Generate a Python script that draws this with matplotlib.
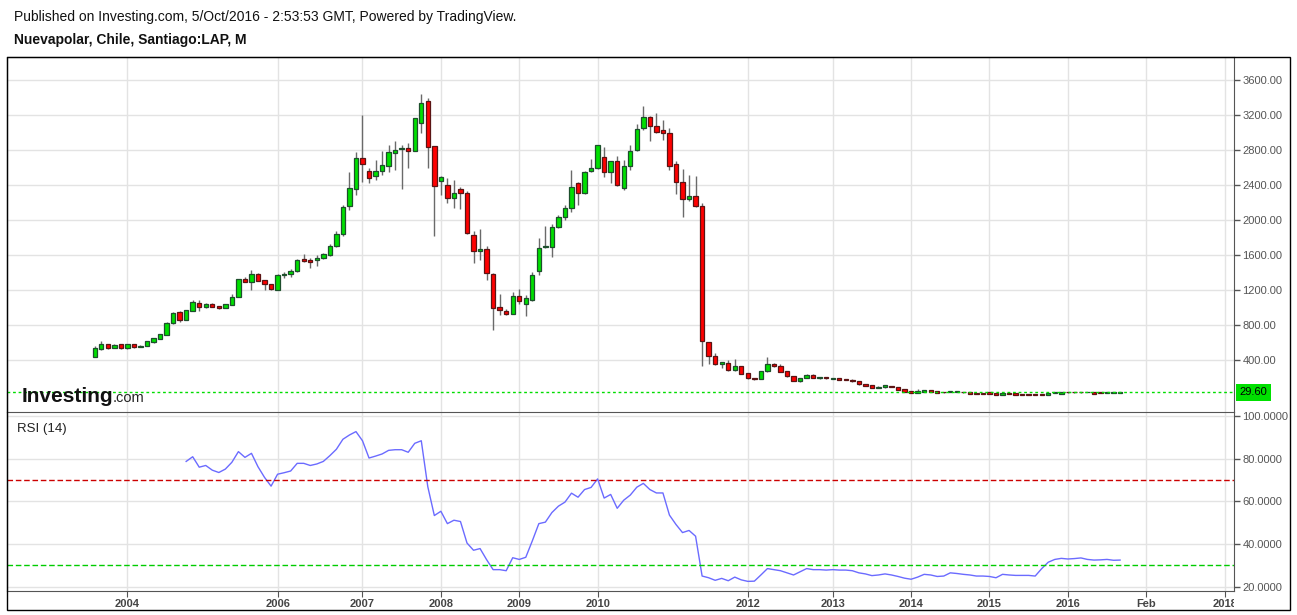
import matplotlib
matplotlib.use('Agg')
import matplotlib.pyplot as plt
import matplotlib.transforms as mtransforms
from matplotlib.patches import Rectangle
import numpy as np
import pandas as pd

plt.rcParams['font.family'] = ['Liberation Sans', 'DejaVu Sans']

# monthly bars, Aug 2003 .. Sep 2016
months = pd.date_range('2003-08-01', periods=158, freq='MS')

opens = [438, 523, 580, 541, 580, 534, 580, 552, 564, 610, 644, 690, 820, 945, 860, 964, 1048, 1010, 1037, 1017,
         1000, 1033, 1117, 1322, 1295, 1380, 1310, 1265, 1200, 1368, 1380, 1414, 1554, 1543, 1547, 1562, 1604, 1700, 1837, 2163,
         2358, 2705, 2560, 2500, 2557, 2621, 2770, 2808, 2819, 2792, 3112, 3357, 2842, 2442, 2396, 2255, 2351, 2305, 1825, 1642,
         1665, 1380, 1002, 957, 930, 1128, 1045, 1082, 1420, 1695, 1695, 1917, 2031, 2134, 2420, 2305, 2557, 2591, 2717, 2545,
         2671, 2362, 2614, 2797, 3049, 3174, 3071, 3025, 2991, 2637, 2431, 2237, 2271, 2157, 602, 442, 351, 362, 282, 328,
         248, 191, 180, 271, 351, 328, 271, 214, 157, 198, 225, 198, 203, 188, 190, 178, 175, 160, 125, 110,
         84, 88, 103, 91, 69, 46, 27, 34, 57, 46, 32, 30, 30, 33, 30, 22, 22, 30, 26, 2,
         22, 22, 15, 15, 15, 15, 4, 24, 15, 30, 31, 31, 30, 30, 30, 19, 20, 27]
highs = [560, 617, 585, 578, 582, 582, 584, 568, 618, 655, 698, 830, 950, 957, 972, 1085, 1090, 1050, 1052, 1022,
         1040, 1160, 1325, 1350, 1430, 1400, 1315, 1268, 1380, 1405, 1440, 1550, 1610, 1565, 1600, 1620, 1725, 1880, 2170, 2550,
         2775, 3200, 2600, 2690, 2785, 2855, 2900, 2860, 2880, 3170, 3440, 3400, 2845, 2500, 2480, 2460, 2380, 2330, 1870, 1895,
         1700, 1390, 1160, 980, 1180, 1210, 1140, 1410, 1790, 1930, 1950, 2060, 2170, 2570, 2430, 2560, 2700, 2860, 2830, 2680,
         2730, 2690, 2860, 3100, 3300, 3190, 3220, 3140, 3050, 2680, 2580, 2510, 2500, 2200, 605, 480, 380, 400, 410, 330,
         250, 195, 275, 434, 365, 360, 275, 215, 200, 245, 235, 208, 205, 196, 192, 182, 180, 165, 130, 112,
         100, 112, 105, 92, 70, 48, 69, 58, 58, 47, 34, 47, 47, 34, 31, 23, 23, 31, 27, 27,
         24, 23, 16, 16, 16, 16, 27, 28, 31, 31, 32, 32, 31, 31, 31, 31, 31, 30]
lows = [430, 520, 523, 538, 530, 530, 541, 548, 560, 590, 640, 688, 815, 840, 855, 960, 960, 1000, 1005, 985,
        995, 1030, 1115, 1290, 1200, 1300, 1200, 1195, 1195, 1340, 1350, 1405, 1525, 1450, 1475, 1555, 1590, 1695, 1815, 2120,
        2290, 2430, 2420, 2460, 2520, 2550, 2570, 2355, 2600, 2790, 2990, 2600, 1820, 2290, 2190, 2140, 2130, 1840, 1505, 1540,
        1310, 745, 910, 920, 925, 1040, 900, 1080, 1375, 1680, 1580, 1910, 2000, 2095, 2170, 2300, 2545, 2585, 2490, 2420,
        2385, 2340, 2570, 2790, 3030, 2900, 2995, 2910, 2570, 2295, 2040, 2215, 2145, 330, 350, 340, 310, 275, 280, 240,
        180, 170, 178, 265, 325, 265, 210, 155, 150, 195, 195, 185, 188, 185, 175, 170, 152, 120, 105, 82,
        82, 85, 86, 60, 37, 26, 26, 33, 33, 26, 28, 29, 29, 28, 14, 14, 14, 11, 1, 1,
        14, 1, 3, 3, 3, 3, 3, 23, 14, 28, 28, 28, 29, 14, 18, 18, 19, 26]
closes = [534, 580, 541, 568, 534, 580, 552, 565, 614, 651, 694, 820, 934, 857, 968, 1060, 1010, 1037, 1010, 1000,
          1037, 1120, 1322, 1295, 1380, 1307, 1265, 1208, 1368, 1383, 1417, 1540, 1535, 1524, 1566, 1608, 1703, 1837, 2145, 2362,
          2705, 2637, 2484, 2560, 2625, 2777, 2800, 2819, 2792, 3162, 3333, 2831, 2392, 2491, 2255, 2305, 2305, 1848, 1642, 1665,
          1391, 991, 968, 930, 1128, 1078, 1105, 1368, 1676, 1700, 1917, 2031, 2134, 2374, 2305, 2545, 2591, 2854, 2545, 2671,
          2397, 2614, 2785, 3037, 3174, 3071, 3002, 2991, 2614, 2431, 2237, 2271, 2157, 614, 442, 351, 374, 282, 328, 244,
          191, 178, 271, 351, 330, 267, 214, 157, 191, 225, 198, 205, 190, 192, 177, 172, 155, 122, 108, 84,
          90, 110, 88, 61, 38, 27, 49, 57, 34, 27, 29, 46, 46, 29, 15, 15, 15, 12, 2, 26,
          15, 2, 4, 4, 4, 4, 26, 27, 30, 29, 29, 29, 30, 15, 19, 30, 30, 29.6]

# RSI(14), first value on the 15th bar
rsi = [78.8, 81.0, 76.1, 76.9, 74.7, 73.6, 75.2, 78.4, 83.4, 80.7, 82.6, 76.3, 71.3, 67.2, 72.8, 73.5, 74.3, 77.9, 77.9, 76.9,
       77.6, 78.8, 81.5, 84.5, 89.2, 91.2, 92.8, 88.5, 80.4, 81.3, 82.3, 84.0, 84.3, 84.3, 83.1, 87.3, 88.5, 66.9, 53.4, 55.4,
       49.6, 51.2, 50.6, 40.5, 37.1, 37.9, 32.7, 28.0, 28.0, 27.5, 33.6, 32.8, 33.8, 41.5, 49.6, 50.3, 54.8, 57.8, 59.7, 63.9,
       62.0, 65.6, 66.6, 70.6, 61.6, 63.3, 56.8, 60.6, 63.0, 66.7, 68.5, 65.6, 64.0, 64.0, 53.6, 49.2, 45.4, 46.4, 43.7, 25.0,
       24.2, 23.0, 23.9, 22.8, 24.5, 23.2, 22.5, 22.6, 25.5, 28.5, 28.0, 27.5, 26.5, 25.5, 27.0, 28.5, 28.0, 28.0, 27.8, 28.0,
       27.8, 27.8, 27.5, 26.5, 26.0, 25.2, 25.5, 26.0, 25.5, 24.8, 24.0, 23.5, 24.5, 25.8, 25.5, 24.8, 25.0, 26.5, 26.2, 25.8,
       25.5, 25.0, 25.0, 24.8, 24.2, 25.8, 25.5, 25.3, 25.3, 25.3, 25.0, 28.5, 31.5, 32.8, 33.3, 33.0, 33.2, 33.5, 32.8, 32.5,
       32.6, 32.8, 32.4, 32.5]
last_price = 29.60

price_ticks = [400, 800, 1200, 1600, 2000, 2400, 2800, 3200, 3600]
rsi_ticks = [20, 40, 60, 80, 100]
year_ticks = [2004, 2005.917, 2007, 2008, 2009, 2010, 2011.917, 2013, 2014, 2015, 2016, 2017, 2018]
year_labels = ['2004', '2006', '2007', '2008', '2009', '2010', '2012', '2013', '2014', '2015', '2016', 'Feb', '2018']

x = months.year + (months.month - 1) / 12.0
o = np.array(opens, float)
h = np.array(highs, float)
l = np.array(lows, float)
c = np.array(closes, float)
up = c >= o

W, H = 1297, 615
fig = plt.figure(figsize=(W / 100, H / 100), dpi=100)
left, right = 7 / W, 1234 / W
ax = fig.add_axes([left, 1 - 412 / H, right - left, (412 - 57) / H])
ax2 = fig.add_axes([left, 1 - 591 / H, right - left, (591 - 412) / H], sharex=ax)

grid_c = '#e3e3e3'
axis_c = '#555555'

# candles
ax.vlines(x, l, h, color='#6a6a6a', lw=1, zorder=2)
body_h = np.maximum(np.abs(c - o), 6)
ax.bar(x[up], body_h[up], bottom=np.minimum(o, c)[up], width=0.056,
       color='#00e000', edgecolor='#1d4f2c', linewidth=0.9, zorder=3)
ax.bar(x[~up], body_h[~up], bottom=np.minimum(o, c)[~up], width=0.056,
       color='#ff0000', edgecolor='#5a1414', linewidth=0.9, zorder=3)
ax.axhline(last_price, color='#00dd00', lw=1, ls=(0, (2, 2)), zorder=4)

ax.set_ylim(-194, 3863)
ax.set_xlim(2002.464, 2018.12)
ax.set_yticks(price_ticks)
ax.set_yticklabels([f'{v:.2f}' for v in price_ticks])

# RSI
ax2.plot(x[14:], rsi, color='#6b6bff', lw=1)
ax2.axhline(70, color='#cc0000', lw=1, ls=(0, (4, 2)))
ax2.axhline(30, color='#00cc00', lw=1, ls=(0, (4, 2)))
ax2.set_ylim(17.98, 102.0)
ax2.set_yticks(rsi_ticks)
ax2.set_yticklabels([f'{v:.4f}' for v in rsi_ticks])
ax2.set_xticks(year_ticks)
ax2.set_xticklabels(year_labels)

for a in (ax, ax2):
    a.yaxis.tick_right()
    a.grid(True, color=grid_c, lw=1)
    a.set_axisbelow(True)
    a.tick_params(axis='y', direction='out', length=4, width=1, color=axis_c,
                  labelsize=8, labelcolor='#555555', pad=2)
    a.spines['right'].set_color(axis_c)
    a.spines['bottom'].set_color(axis_c)
    a.spines['left'].set_color('black')
    a.spines['top'].set_color('black')
    a.set_facecolor('white')
ax.tick_params(axis='x', length=0, labelbottom=False)
ax2.tick_params(axis='x', direction='out', length=4, color=axis_c, labelsize=8,
                labelcolor='#444444', pad=2)
for lb in ax2.get_xticklabels():
    lb.set_fontweight('bold')
ax2.spines['top'].set_color(axis_c)
ax.spines['bottom'].set_visible(False)

# clip the rightmost date label at the axis edge, like the original
clip = mtransforms.TransformedBbox(mtransforms.Bbox([[0, -1], [1, 1]]), ax2.transAxes)
for lb in ax2.get_xticklabels():
    lb.set_clip_box(clip)
    lb.set_clip_on(True)

# last price badge
trans = mtransforms.blended_transform_factory(ax.transAxes, ax.transData)
ax.text(1.0045, last_price, '29.60', transform=trans, ha='left', va='center', fontsize=8,
        color='black', bbox=dict(boxstyle='square,pad=0.3', fc='#00e000', ec='none'), zorder=6)

# outer frame
fig.patches.append(Rectangle((7 / W, 1 - 610 / H), (1290 - 7) / W, (610 - 57) / H,
                             transform=fig.transFigure, fill=False, edgecolor='black', lw=1))

# texts
fig.text(14 / W, 1 - 17 / H, 'Published on Investing.com, 5/Oct/2016 - 2:53:53 GMT, Powered by TradingView.',
         fontsize=10, va='center', ha='left', color='#111111')
fig.text(14 / W, 1 - 40 / H, 'Nuevapolar, Chile, Santiago:LAP, M', fontsize=10, fontweight='bold',
         va='center', ha='left', color='#111111')
fig.text(17 / W, 1 - 429 / H, 'RSI (14)', fontsize=9.5, va='center', ha='left', color='#222222')
fig.text(22 / W, 1 - 396 / H, 'Investing', fontsize=15, fontweight='bold', va='center', ha='left',
         color='#111111')
fig.text(113 / W, 1 - 398 / H, '.com', fontsize=10.5, va='center', ha='left', color='#222222')

fig.savefig('out.png', dpi=100)
